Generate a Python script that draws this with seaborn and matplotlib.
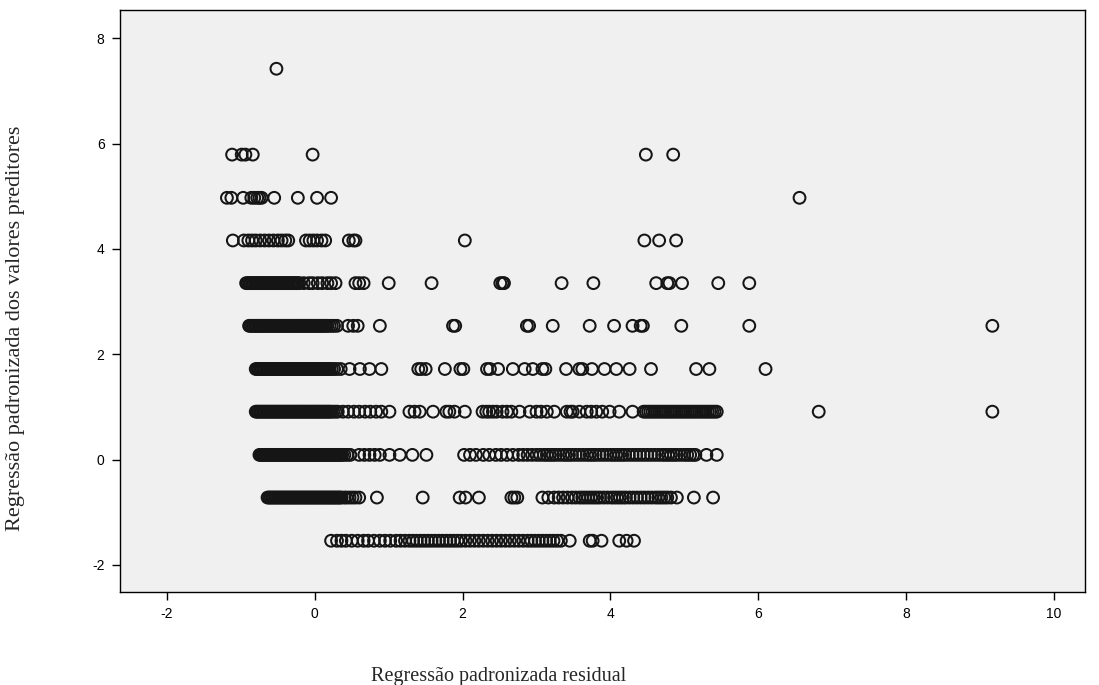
import matplotlib
matplotlib.use("Agg")
import matplotlib.pyplot as plt
import seaborn as sns
import pandas as pd

# Standardized predicted value levels (rows of the scatter)
y_levels = [7.42, 5.79, 4.97, 4.16, 3.35, 2.54, 1.72, 0.91, 0.09, -0.72, -1.54]

# Standardized residuals observed at each predicted level
res_742 = [-0.52]
res_579 = [-1.12, -0.99, -0.94, -0.84, -0.03, 4.48, 4.85]
res_497 = [-1.19, -1.13, -0.97, -0.86, -0.82, -0.78, -0.75, -0.72, -0.55,
           -0.23, 0.03, 0.22, 6.56]
res_416 = [-1.11, -0.96, -0.90, -0.85, -0.80, -0.74, -0.68, -0.62, -0.56,
           -0.50, -0.45, -0.40, -0.36, -0.12, -0.07, -0.02, 0.03, 0.09, 0.14,
           0.46, 0.52, 0.55, 2.03, 4.46, 4.66, 4.89]
res_335 = [-0.93, -0.91, -0.89, -0.87, -0.85, -0.83, -0.81, -0.79, -0.77,
           -0.75, -0.73, -0.71, -0.69, -0.67, -0.65, -0.63, -0.61, -0.59,
           -0.57, -0.55, -0.53, -0.51, -0.49, -0.47, -0.45, -0.43, -0.41,
           -0.39, -0.37, -0.35, -0.33, -0.31, -0.29, -0.27, -0.25, -0.23,
           -0.21, -0.15, -0.08, -0.03, 0.04, 0.10, 0.17, 0.22, 0.28, 0.55,
           0.60, 0.66, 1.00, 1.58, 2.51, 2.54, 2.56, 3.34, 3.77, 4.62, 4.77,
           4.80, 4.97, 5.46, 5.88]
res_254 = [-0.89, -0.87, -0.85, -0.83, -0.81, -0.79, -0.77, -0.75, -0.73,
           -0.71, -0.69, -0.67, -0.65, -0.63, -0.61, -0.59, -0.57, -0.55,
           -0.53, -0.51, -0.49, -0.47, -0.45, -0.43, -0.41, -0.39, -0.37,
           -0.35, -0.33, -0.31, -0.29, -0.27, -0.25, -0.23, -0.21, -0.19,
           -0.17, -0.15, -0.13, -0.11, -0.09, -0.07, -0.05, -0.03, -0.01,
           0.01, 0.03, 0.05, 0.07, 0.09, 0.11, 0.13, 0.15, 0.17, 0.20, 0.23,
           0.26, 0.30, 0.45, 0.52, 0.58, 0.88, 1.87, 1.90, 2.87, 2.90, 3.22,
           3.72, 4.05, 4.30, 4.41, 4.44, 4.96, 5.88, 9.17]
res_172 = [-0.80, -0.78, -0.76, -0.74, -0.72, -0.70, -0.68, -0.66, -0.64,
           -0.62, -0.60, -0.58, -0.56, -0.54, -0.52, -0.50, -0.48, -0.46,
           -0.44, -0.42, -0.40, -0.38, -0.36, -0.34, -0.32, -0.30, -0.28,
           -0.26, -0.24, -0.22, -0.20, -0.18, -0.16, -0.14, -0.12, -0.10,
           -0.08, -0.06, -0.04, -0.02, 0.00, 0.02, 0.04, 0.06, 0.08, 0.10,
           0.12, 0.14, 0.16, 0.18, 0.20, 0.23, 0.26, 0.30, 0.35, 0.47, 0.61,
           0.74, 0.90, 1.40, 1.44, 1.50, 1.76, 1.97, 2.01, 2.33, 2.37, 2.48,
           2.68, 2.84, 2.95, 3.08, 3.12, 3.40, 3.58, 3.62, 3.75, 3.92, 4.08,
           4.26, 4.55, 5.16, 5.34, 6.10]
res_091 = [-0.80, -0.78, -0.76, -0.74, -0.72, -0.70, -0.68, -0.66, -0.64,
           -0.62, -0.60, -0.58, -0.56, -0.54, -0.52, -0.50, -0.48, -0.46,
           -0.44, -0.42, -0.40, -0.38, -0.36, -0.34, -0.32, -0.30, -0.28,
           -0.26, -0.24, -0.22, -0.20, -0.18, -0.16, -0.14, -0.12, -0.10,
           -0.08, -0.06, -0.04, -0.02, 0.00, 0.02, 0.04, 0.06, 0.08, 0.10,
           0.12, 0.14, 0.16, 0.18, 0.20, 0.22, 0.25, 0.28, 0.31, 0.38, 0.45,
           0.53, 0.60, 0.68, 0.75, 0.83, 0.90, 1.01, 1.28, 1.35, 1.42, 1.60,
           1.78, 1.82, 1.89, 2.03, 2.27, 2.32, 2.36, 2.41, 2.46, 2.54, 2.60,
           2.66, 2.77, 2.91, 3.00, 3.06, 3.14, 3.24, 3.41, 3.46, 3.49, 3.58,
           3.68, 3.74, 3.81, 3.89, 3.99, 4.12, 4.30, 4.45, 4.48, 4.51, 4.54,
           4.57, 4.60, 4.63, 4.66, 4.69, 4.72, 4.75, 4.78, 4.81, 4.84, 4.87,
           4.90, 4.93, 4.96, 4.99, 5.02, 5.05, 5.08, 5.11, 5.14, 5.17, 5.20,
           5.23, 5.26, 5.29, 5.32, 5.35, 5.38, 5.41, 5.44, 6.82, 9.17]
res_009 = [-0.75, -0.73, -0.71, -0.69, -0.67, -0.65, -0.63, -0.61, -0.59,
           -0.57, -0.55, -0.53, -0.51, -0.49, -0.47, -0.45, -0.43, -0.41,
           -0.39, -0.37, -0.35, -0.33, -0.31, -0.29, -0.27, -0.25, -0.23,
           -0.21, -0.19, -0.17, -0.15, -0.13, -0.11, -0.09, -0.07, -0.05,
           -0.03, -0.01, 0.01, 0.03, 0.05, 0.07, 0.09, 0.11, 0.13, 0.15,
           0.17, 0.19, 0.21, 0.23, 0.25, 0.27, 0.29, 0.31, 0.33, 0.35, 0.37,
           0.40, 0.44, 0.48, 0.60, 0.67, 0.74, 0.81, 0.88, 1.01, 1.15, 1.32,
           1.51, 2.02, 2.10, 2.18, 2.28, 2.36, 2.45, 2.52, 2.60, 2.68, 2.76,
           2.82, 2.88, 2.94, 3.00, 3.05, 3.10, 3.14, 3.18, 3.22, 3.26, 3.31,
           3.36, 3.40, 3.44, 3.48, 3.53, 3.58, 3.63, 3.68, 3.72, 3.76, 3.80,
           3.85, 3.90, 3.95, 4.00, 4.04, 4.08, 4.12, 4.16, 4.20, 4.25, 4.30,
           4.35, 4.40, 4.45, 4.50, 4.55, 4.60, 4.65, 4.70, 4.74, 4.78, 4.82,
           4.86, 4.90, 4.95, 5.00, 5.04, 5.08, 5.12, 5.15, 5.30, 5.44]
res_m072 = [-0.64, -0.62, -0.60, -0.58, -0.56, -0.54, -0.52, -0.50, -0.48,
            -0.46, -0.44, -0.42, -0.40, -0.38, -0.36, -0.34, -0.32, -0.30,
            -0.28, -0.26, -0.24, -0.22, -0.20, -0.18, -0.16, -0.14, -0.12,
            -0.10, -0.08, -0.06, -0.04, -0.02, 0.00, 0.02, 0.04, 0.06, 0.08,
            0.10, 0.12, 0.14, 0.16, 0.18, 0.20, 0.22, 0.24, 0.26, 0.28, 0.30,
            0.32, 0.34, 0.36, 0.40, 0.43, 0.47, 0.51, 0.55, 0.60, 0.84, 1.46,
            1.96, 2.04, 2.22, 2.66, 2.70, 2.74, 3.08, 3.16, 3.24, 3.30, 3.36,
            3.42, 3.48, 3.53, 3.58, 3.62, 3.66, 3.70, 3.74, 3.78, 3.82, 3.86,
            3.91, 3.96, 4.01, 4.05, 4.09, 4.13, 4.17, 4.21, 4.26, 4.31, 4.36,
            4.41, 4.46, 4.51, 4.56, 4.61, 4.65, 4.69, 4.73, 4.77, 4.82, 4.90,
            5.13, 5.39]
res_m154 = [0.22, 0.30, 0.36, 0.42, 0.50, 0.58, 0.66, 0.72, 0.80, 0.88,
            0.95, 1.02, 1.10, 1.16, 1.22, 1.28, 1.33, 1.38, 1.43, 1.48, 1.53,
            1.58, 1.63, 1.68, 1.73, 1.78, 1.83, 1.88, 1.93, 1.98, 2.04, 2.10,
            2.16, 2.22, 2.28, 2.34, 2.40, 2.46, 2.52, 2.58, 2.64, 2.70, 2.76,
            2.82, 2.88, 2.93, 2.98, 3.03, 3.08, 3.13, 3.18, 3.23, 3.28, 3.33,
            3.45, 3.72, 3.76, 3.88, 4.12, 4.22, 4.32]

rows = [res_742, res_579, res_497, res_416, res_335, res_254, res_172,
        res_091, res_009, res_m072, res_m154]

x_ticks = [-2, 0, 2, 4, 6, 8, 10]
y_ticks = [-2, 0, 2, 4, 6, 8]

x_label = "Regressão padronizada residual"
y_label = "Regressão padronizada dos valores preditores"

df = pd.DataFrame(
    [(x, y) for y, xs in zip(y_levels, rows) for x in xs],
    columns=["residual", "predito"],
)

sns.set_style("white")
plt.rcParams["font.family"] = ["Liberation Sans", "DejaVu Sans"]
plt.rcParams["axes.unicode_minus"] = False

fig = plt.figure(figsize=(10.99, 6.85), dpi=100)
ax = fig.add_axes([0.109, 0.136, 0.878, 0.849])
ax.set_facecolor("#f0f0f0")

sns.scatterplot(
    data=df, x="residual", y="predito", ax=ax,
    marker="o", s=72, facecolors="none", edgecolor="#151515",
    linewidth=1.45, legend=False,
)

ax.set_xlim(-2.64, 10.42)
ax.set_ylim(-2.51, 8.53)
ax.set_xticks(x_ticks)
ax.set_yticks(y_ticks)
ax.tick_params(axis="both", which="major", bottom=True, left=True,
               direction="out", length=6, width=1, color="black",
               labelsize=10, labelcolor="black", pad=5)
ax.set_xlabel("")
ax.set_ylabel("")
for sp in ax.spines.values():
    sp.set_visible(True)
    sp.set_color("black")
    sp.set_linewidth(1.0)

fig.text(0.454, 0.012, x_label, family="Liberation Serif", fontsize=14.5,
         ha="center", va="center")
fig.text(0.0145, 0.52, y_label, family="Liberation Serif", fontsize=16,
         ha="center", va="center", rotation=90)

fig.savefig("out.png", dpi=100, facecolor="white")
